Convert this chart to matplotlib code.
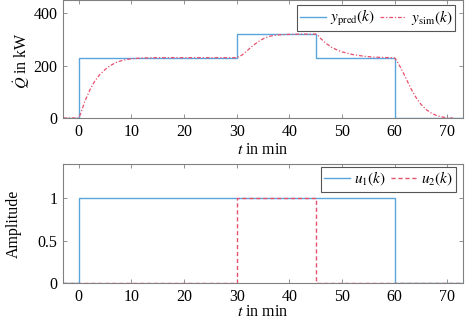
import matplotlib
matplotlib.use("Agg")
import matplotlib.pyplot as plt

# ---- data ----
t_pred = [-3, 0, 30, 45, 60, 73]
y_pred = [0, 230, 320, 230, 0, 0]

t_sim = [-3, 0, 0.5, 1.1, 2.1, 3, 4, 5, 6, 7, 8, 9, 10, 12, 15, 30,
         31, 32, 33, 34, 35, 36, 37, 38, 40, 42, 45,
         45.5, 46, 47, 48, 49, 50, 52, 54, 56, 58, 60,
         60.5, 61, 62, 63, 64, 65, 66, 67, 68, 69, 70, 71]
y_sim = [0, 0, 25, 62, 107, 140, 166, 185, 200, 211, 218, 223, 226, 229, 230, 230,
         240, 257, 275, 290, 302, 310, 315, 317, 319, 320, 320,
         314, 302, 284, 270, 260, 252, 242, 236, 232, 231, 229,
         215, 197, 158, 115, 80, 52, 32, 18, 9, 4, 1, 0]

t_u1 = [-3, 0, 60, 73]
u1 = [0, 1, 0, 0]
t_u2 = [-3, 30, 45, 73]
u2 = [0, 1, 0, 0]

x_ticks = [0, 10, 20, 30, 40, 50, 60, 70]
q_ticks = [0, 200, 400]
a_ticks = [0, 0.5, 1]
a_tick_labels = ["0", "0.5", "1"]

# ---- style ----
plt.rcParams['font.family'] = 'serif'
plt.rcParams['font.serif'] = ['Liberation Serif', 'DejaVu Serif']
plt.rcParams['mathtext.fontset'] = 'stix'
FS = 11.5
plt.rcParams['font.size'] = FS

blue = '#5aa6dc'
red = '#e8506e'
frame = '#808080'

fig = plt.figure(figsize=(4.74, 3.23), dpi=100)
ax1 = fig.add_axes([0.133, 0.6347, 0.844, 0.3653])
ax2 = fig.add_axes([0.133, 0.1238, 0.844, 0.3684])

for ax in (ax1, ax2):
    ax.set_xlim(-3, 73)
    ax.set_xticks(x_ticks)
    ax.tick_params(direction='in', top=True, right=True, length=3, width=0.6,
                   color=frame, labelsize=FS, pad=4)
    for s in ax.spines.values():
        s.set_color(frame)
        s.set_linewidth(0.8)
    ax.set_xlabel(r"$t$ in min")

ax1.plot(t_pred, y_pred, drawstyle='steps-post', color=blue, lw=1.0,
         label=r"$y_{\mathrm{pred}}(k)$")
ax1.plot(t_sim, y_sim, color=red, lw=0.9, linestyle=(0, (3, 1.5, 1, 1.5)),
         label=r"$y_{\mathrm{sim}}(k)$")
ax1.set_ylim(0, 450)
ax1.set_yticks(q_ticks)
ax1.set_ylabel(r"$\dot{Q}$ in kW")
ax1.yaxis.set_label_coords(-0.078, 0.49)
ax1.xaxis.set_label_coords(0.5, -0.205)

ax2.plot(t_u1, u1, drawstyle='steps-post', color=blue, lw=1.0, label=r"$u_1(k)$")
ax2.plot(t_u2, u2, drawstyle='steps-post', color=red, lw=1.0,
         linestyle=(0, (3, 2)), label=r"$u_2(k)$")
ax2.set_ylim(0, 1.4)
ax2.set_yticks(a_ticks)
ax2.set_yticklabels(a_tick_labels)
ax2.set_ylabel("Amplitude")
ax2.yaxis.set_label_coords(-0.1025, 0.5)
ax2.xaxis.set_label_coords(0.5, -0.175)

anchors = [(1 - 8 / 400, 1 - 5 / 118), (1 - 7 / 400, 1 - 3 / 119)]
for ax, anc in zip((ax1, ax2), anchors):
    leg = ax.legend(loc='upper right', bbox_to_anchor=anc, ncol=2, frameon=True,
                    fancybox=False, edgecolor='#555555', framealpha=1,
                    handlelength=1.7, handletextpad=0.3, columnspacing=0.3,
                    borderpad=0.2, borderaxespad=0, fontsize=11)
    leg.get_frame().set_linewidth(0.8)

fig.savefig("out.png", dpi=100)
